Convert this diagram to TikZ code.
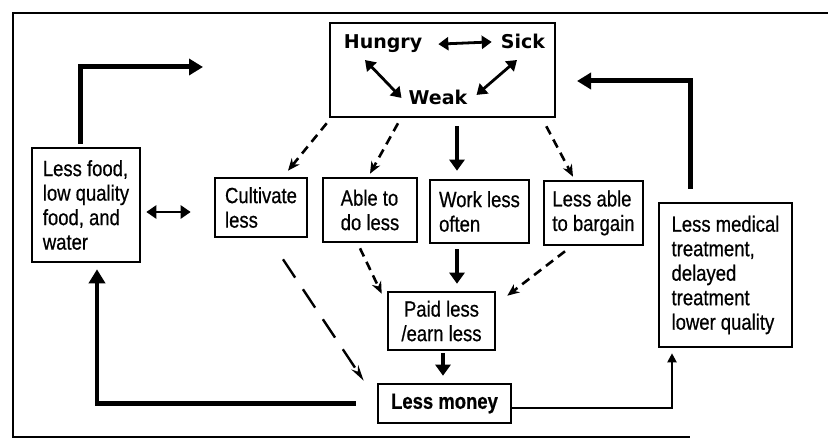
\documentclass[tikz,border=0pt]{standalone}
\usepackage{fontspec}
\setmainfont{Liberation Sans}[FakeStretch=0.84, FakeBold=0.6]
\newfontfamily\hswfont{DejaVu Sans}
\usetikzlibrary{arrows.meta}

\begin{document}
\begin{tikzpicture}[x=1pt, y=1pt,
    boxNode/.style={rectangle, draw=black, line width=2.6pt, align=left, font=\fontsize{22}{24.5}\selectfont, inner sep=0pt},
    stateText/.style={font=\hswfont\fontsize{19}{22}\selectfont\bfseries, inner sep=1pt, anchor=base},
    pairArrow/.style={{Triangle[length=10pt,width=13pt]}-{Triangle[length=10pt,width=13pt]}, line width=2.8pt},
    dashArrow/.style={-{Stealth[length=12pt,width=10pt]}, line width=2.6pt, dash pattern=on 9pt off 6pt},
    longDash/.style={-{Stealth[length=16pt,width=8pt]}, line width=2.4pt, dash pattern=on 22pt off 14pt},
    downArrow/.style={-{Triangle[length=11pt,width=15pt]}, line width=3.8pt},
    loopArrow/.style={-{Triangle[length=14pt,width=16pt]}, line width=5pt},
    thinArrow/.style={-{Triangle[length=9pt,width=9pt]}, line width=2pt}
]
    \useasboundingbox (0,0) rectangle (828,442);
    \draw[line width=1.4pt] (828,429) -- (13,429) -- (13,5) -- (690,5);

    \node[boxNode, minimum width=225pt, minimum height=94pt] (state) at (442.5,372) {};
    \node[stateText] (hungry) at (383,393) {Hungry};
    \node[stateText] (sick) at (523,393) {Sick};
    \node[stateText] (weak) at (438,337) {Weak};

    \node[boxNode, minimum width=108pt, minimum height=114pt] (food) at (86,237) {Less food,\\low quality\\food, and\\water};
    \node[boxNode, minimum width=92pt, minimum height=59pt] (cult) at (261,234.5) {Cultivate\\less};
    \node[boxNode, minimum width=94pt, minimum height=64pt] (able) at (370,232) {Able to\\do less};
    \node[boxNode, minimum width=99pt, minimum height=63pt] (work) at (479.5,230.5) {Work less\\often};
    \node[boxNode, minimum width=99pt, minimum height=64pt] (barg) at (593.5,229) {Less able\\to bargain};
    \node[boxNode, minimum width=133pt, minimum height=144pt] (med) at (725.5,167) {Less medical\\treatment,\\delayed\\treatment\\lower quality};
    \node[boxNode, align=center, minimum width=107pt, minimum height=58pt] (paid) at (441.5,121) {Paid less\\/earn less};
    \node[boxNode, align=center, minimum width=133pt, minimum height=39pt, font=\fontsize{22}{24.5}\selectfont\bfseries] (money) at (444.5,38.5) {Less money};

    \coordinate (foodOut) at (203,375);
    \coordinate (medOut) at (577,361);

    \draw[pairArrow] ([xshift=15pt]hungry.east) -- ([xshift=-8pt]sick.west);
    \draw[pairArrow] ([shift={(-18,-11)}]hungry.base) -- ([xshift=-6pt]weak.west);
    \draw[pairArrow] ([shift={(-6,-11)}]sick.base) -- ([shift={(8,3)}]weak.east);

    \draw[dashArrow] ([shift={(-2,-5)}]state.south west) -- ([shift={(27,6)}]cult.north);
    \draw[dashArrow] ([shift={(-44.5,-5)}]state.south) -- ([shift={(0,3)}]able.north);
    \draw[downArrow] ([shift={(14.5,-8)}]state.south) -- ([shift={(-22.5,8)}]work.north);
    \draw[dashArrow] ([shift={(-10,-8)}]state.south east) -- ([shift={(-20.5,3)}]barg.north);

    \draw[dashArrow] ([shift={(-10,-5)}]able.south) -- ([shift={(-5,-3)}]paid.north west);
    \draw[downArrow] ([shift={(-22.5,-5)}]work.south) -- ([shift={(15.5,7)}]paid.north);
    \draw[dashArrow] ([shift={(-28.5,-5)}]barg.south) -- ([shift={(11,-5)}]paid.north east);
    \draw[downArrow] ([shift={(1.5,-2)}]paid.south) -- ([shift={(-1.5,7)}]money.north);
    \draw[longDash] ([shift={(22,-21)}]cult.south) -- ([shift={(-13,2)}]money.north west);

    \draw[pairArrow] ([shift={(5,-7)}]food.east) -- ([shift={(-23,-4.5)}]cult.west);
    \draw[loopArrow, line width=4.5pt] ([xshift=-21pt]money.west) -| ([shift={(11,-6)}]food.south);
    \draw[thinArrow] ([yshift=-4.5pt]money.east) -| ([shift={(-53.5,-5)}]med.south);
    \draw[loopArrow] ([shift={(-6,3)}]food.north) |- (foodOut);
    \draw[loopArrow] ([shift={(-35.5,13)}]med.north) |- (medOut);
\end{tikzpicture}
\end{document}
